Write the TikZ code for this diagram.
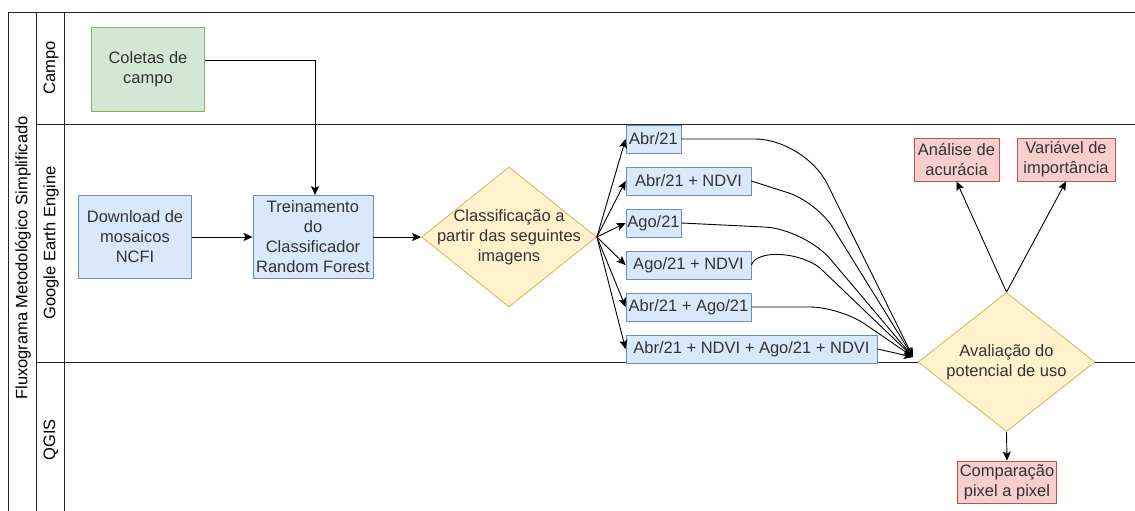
\documentclass[tikz,border=0pt]{standalone}
\usepackage{fontspec}
\setmainfont{Liberation Sans}
\usetikzlibrary{shapes.geometric,arrows.meta}

\definecolor{greenfill}{HTML}{D5E8D4}
\definecolor{greenline}{HTML}{82B366}
\definecolor{bluefill}{HTML}{DAE8FC}
\definecolor{blueline}{HTML}{6C8EBF}
\definecolor{yellowfill}{HTML}{FFF2CC}
\definecolor{yellowline}{HTML}{D6B656}
\definecolor{redfill}{HTML}{F8CECC}
\definecolor{redline}{HTML}{B85450}
\definecolor{textgray}{HTML}{333333}

\begin{document}
\begin{tikzpicture}[x=1pt,y=-1pt,
    font=\fontsize{16.5}{20}\selectfont,
    every node/.style={text=textgray},
    box/.style={draw, rectangle, align=center, inner sep=1pt, line width=0.8pt},
    greenbox/.style={box, draw=greenline, fill=greenfill},
    bluebox/.style={box, draw=blueline, fill=bluefill},
    redbox/.style={box, draw=redline, fill=redfill},
    decision/.style={diamond, draw=yellowline, fill=yellowfill, inner sep=0pt, line width=0.8pt},
    lane/.style={rotate=90, text=black},
    flow/.style={-{Stealth[length=9pt,width=8pt,inset=2pt]}, line width=0.9pt}]

    \useasboundingbox (0,0) rectangle (1135,511);

    % lanes
    \draw[line width=0.9pt, black!85] (8,511) -- (8,12) -- (1135,12);
    \draw[line width=0.9pt, black!85] (36,12) -- (36,511);
    \draw[line width=0.9pt, black!85] (64,12) -- (64,511);
    \draw[line width=0.9pt, black!85] (36,124) -- (1135,124);
    \draw[line width=0.9pt, black!85] (36,362) -- (1135,362);

    \node[lane] (title) at (23,258) {Fluxograma Metodológico Simplificado};
    \node[lane] (campo) at (51,68) {Campo};
    \node[lane] (gee) at (51,243) {Google Earth Engine};
    \node[lane] (qgis) at (51,440) {QGIS};

    % steps
    \node[greenbox, minimum width=113pt, minimum height=84pt] (coletas) at (148,69) {Coletas de\\campo};
    \node[bluebox, minimum width=113pt, minimum height=83pt] (download) at (135,237) {Download de\\mosaicos\\NCFI};
    \node[bluebox, minimum width=120pt, minimum height=83pt] (treino) at (313,237) {Treinamento\\do\\Classificador\\Random Forest};
    \node[decision, minimum width=175pt, minimum height=140pt,
        label={[align=center]center:{Classificação a\\partir das seguintes\\imagens}}] (classif) at (509,237) {};

    % image sets
    \node[bluebox, minimum width=55pt, minimum height=28pt] (abr) at (653.5,139) {Abr/21};
    \node[bluebox, minimum width=125pt, minimum height=28pt] (abrndvi) at (688.5,181) {Abr/21 + NDVI};
    \node[bluebox, minimum width=55pt, minimum height=28pt] (ago) at (653.5,223) {Ago/21};
    \node[bluebox, minimum width=125pt, minimum height=28pt] (agondvi) at (688.5,265) {Ago/21 + NDVI};
    \node[bluebox, minimum width=125pt, minimum height=28pt] (abrago) at (688.5,307) {Abr/21 + Ago/21};
    \node[bluebox, minimum width=251pt, minimum height=28pt] (todas) at (751.5,349) {Abr/21 + NDVI + Ago/21 + NDVI};

    \node[decision, minimum width=177pt, minimum height=139pt,
        label={[align=center]center:{Avaliação do\\potencial de uso}}] (avalia) at (1006.5,362) {};

    \node[redbox, minimum width=85pt, minimum height=43pt] (analise) at (956.5,159.5) {Análise de\\acurácia};
    \node[redbox, minimum width=98pt, minimum height=43pt] (importancia) at (1066,159.5) {Variável de\\importância};
    \node[redbox, minimum width=99pt, minimum height=42pt] (comparacao) at (1007,482) {Comparação\\pixel a pixel};

    \coordinate (merge) at (913,357);

    % connectors
    \draw[flow] ([yshift=9pt]coletas.east) -| ([xshift=2pt]treino.north);
    \draw[flow] (download) -- (treino);
    \draw[flow] (treino) -- (classif);
    \foreach \b in {abr,abrndvi,ago,agondvi,abrago,todas}
        \draw[flow] (classif.east) -- (\b.west);

    \draw[flow, rounded corners=50pt] (abr.east) -- (805,139) -- (merge);
    \draw[flow, rounded corners=30pt] (abrndvi.east) -- (817,202) -- (merge);
    \draw[flow, rounded corners=40pt] (ago.east) -- (805,229) -- (merge);
    \draw[flow] (agondvi.east) .. controls (757,249) and (800,252) .. (820,268) -- (merge);
    \draw[flow, rounded corners=30pt] (abrago.east) -- (840,307) -- (merge);
    \draw[flow] (todas.east) -- (merge);

    \draw[flow] (avalia.north) -- (analise.south);
    \draw[flow] (avalia.north) -- (importancia.south);
    \draw[flow] (avalia.south) -- (comparacao.north);
\end{tikzpicture}
\end{document}
